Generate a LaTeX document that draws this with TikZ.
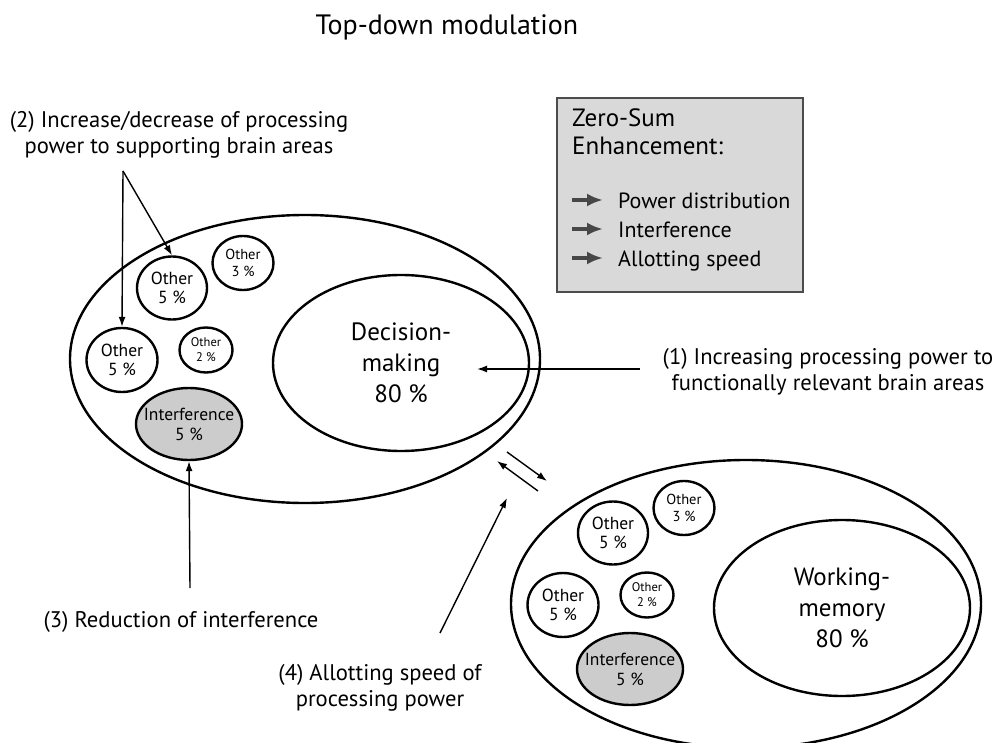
\documentclass[tikz,border=0pt]{standalone}
\usepackage{fontspec}
\setmainfont{PT Sans}
\usepackage{tikz}
\usetikzlibrary{shapes.geometric,arrows.meta,positioning}

\begin{document}
\begin{tikzpicture}[x=1pt,y=-1pt,
	area/.style={draw,ellipse,line width=2.4pt,inner sep=-8pt,align=center},
	conn/.style={-{Latex[length=10pt,width=7pt]},line width=1.4pt},
	legarr/.style={-{Latex[length=16pt,width=13pt]},line width=3.4pt,black!72},
	lab/.style={align=center,inner sep=0pt,font=\fontsize{22.6}{25.5}\selectfont}]
	\useasboundingbox (0,0) rectangle (998,743);
	\node[lab,font=\fontsize{28}{30}\selectfont] (title) at (447,27) {Top-down modulation};
	\foreach \g/\dx/\dy/\txt in {A/0/0/{Decision-\\making\\80 \%},B/441/245/{Working-\\memory\\80 \%}}{
		\begin{scope}[shift={(\dx,\dy)}]
			\node[area,minimum width=470,minimum height=288] (big\g) at (305,359) {};
			\node[area,minimum width=256,minimum height=176,font=\fontsize{25}{31}\selectfont] (main\g) at (401,363) {\txt};
			\node[area,minimum width=70,minimum height=63,font=\fontsize{17.5}{19.5}\selectfont] (oT\g) at (172,288) {Other\\5 \%};
			\node[area,minimum width=61,minimum height=54,font=\fontsize{14.5}{17}\selectfont] (oR\g) at (243,263) {Other\\3 \%};
			\node[area,minimum width=71,minimum height=64,font=\fontsize{17.5}{19.5}\selectfont] (oL\g) at (122,360) {Other\\5 \%};
			\node[area,minimum width=53,minimum height=45,font=\fontsize{12.5}{15}\selectfont] (oS\g) at (206,350) {Other\\2 \%};
			\node[area,fill=gray!40,minimum width=106,minimum height=72,font=\fontsize{17.5}{20}\selectfont] (int\g) at (189,424) {Interference\\5 \%};
		\end{scope}
	}
	\draw[black!70,fill=black!15,line width=1.2pt] (557,98) rectangle (803,292);
	\node[align=left,anchor=north west,inner sep=0pt,font=\fontsize{25}{28}\selectfont] (zs) at (572,109) {Zero-Sum\\Enhancement:};
	\foreach \t [count=\i] in {Power distribution,Interference,Allotting speed}{
		\coordinate (la\i) at (572,171+29*\i);
		\node[anchor=west,inner sep=0pt,text height=15pt,text depth=5pt,font=\fontsize{22}{22}\selectfont] (lt\i) at (618,175+29*\i) {\t};
		\draw[legarr] (la\i) -- ++(31,0);
	}
	\node[lab] (lab2) at (179,135) {(2) Increase/decrease of processing\\power to supporting brain areas};
	\node[lab] (lab1) at (828,372) {(1) Increasing processing power to\\functionally relevant brain areas};
	\node[lab] (lab3) at (181,622) {(3) Reduction of interference};
	\node[lab] (lab4) at (380,688) {(4) Allotting speed of\\processing power};
	\coordinate (fork) at (123,171);
	\coordinate (in1) at (640,369);
	\coordinate (tip1) at (477,369);
	\coordinate (in3) at (190,588);
	\coordinate (in4) at (440,633);
	\coordinate (tip4) at (507,498);
	\coordinate (sa) at (507,452);
	\coordinate (sb) at (547,481);
	\coordinate (sc) at (538,491);
	\coordinate (sd) at (497,461);
	\draw[conn] (fork) -- (oLA.north);
	\draw[conn] (fork) -- (oTA.north);
	\draw[conn] (in1) -- (tip1);
	\draw[conn] (in3) -- (intA.south);
	\draw[conn] (in4) -- (tip4);
	\draw[conn] (sa) -- (sb);
	\draw[conn] (sc) -- (sd);
\end{tikzpicture}
\end{document}
